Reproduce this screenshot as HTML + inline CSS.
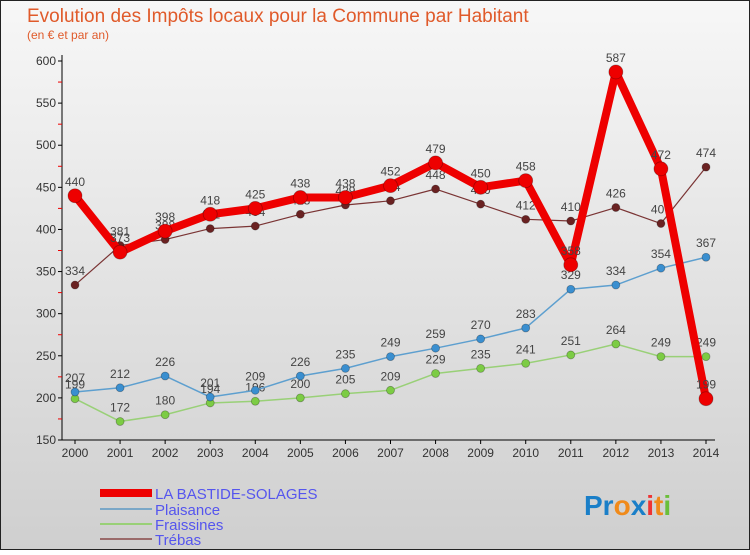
<!DOCTYPE html>
<html><head><meta charset="utf-8"><style>
body{margin:0;width:750px;height:550px;overflow:hidden;font-family:"Liberation Sans",sans-serif}
</style></head><body>
<svg id="c" width="750" height="550" xmlns="http://www.w3.org/2000/svg">
<defs><linearGradient id="bg" x1="0" y1="0" x2="0" y2="1"><stop offset="0" stop-color="#f7f7f7"/><stop offset="1" stop-color="#cfcfcf"/></linearGradient></defs>
<rect x="0.5" y="0.5" width="749" height="549" fill="url(#bg)" stroke="#222"/>
<text x="27" y="22" font-size="19" fill="#e05a2a">Evolution des Impôts locaux pour la Commune par Habitant</text>
<text x="27" y="39" font-size="12" fill="#e05a2a">(en € et par an)</text>
<g id="axes"></g><g id="series"></g>
<g>
<line x1="100" y1="493" x2="152" y2="493" stroke="#e00" stroke-width="8"/>
<text x="155" y="499" font-size="15" fill="#5555ee">LA BASTIDE-SOLAGES</text>
<line x1="100" y1="509" x2="152" y2="509" stroke="#7aa7c7" stroke-width="2"/>
<text x="155" y="515" font-size="15" fill="#5555ee">Plaisance</text>
<line x1="100" y1="524" x2="152" y2="524" stroke="#99d077" stroke-width="2"/>
<text x="155" y="530" font-size="15" fill="#5555ee">Fraissines</text>
<line x1="100" y1="539" x2="152" y2="539" stroke="#9a6b6b" stroke-width="2"/>
<text x="155" y="545" font-size="15" fill="#5555ee">Trébas</text>
</g>
<text x="584" y="515" font-size="28" font-weight="bold"><tspan fill="#1a7fc8">Pr</tspan><tspan fill="#f08a1a">o</tspan><tspan fill="#1a7fc8">x</tspan><tspan fill="#e33">i</tspan><tspan fill="#f08a1a">t</tspan><tspan fill="#6bbf3a">i</tspan></text>
</svg>
<script>
const years=[2000,2001,2002,2003,2004,2005,2006,2007,2008,2009,2010,2011,2012,2013,2014];
const bastide=[440,373,398,418,425,438,438,452,479,450,458,358,587,472,199];
const plaisance=[207,212,226,201,209,226,235,249,259,270,283,329,334,354,367];
const fraissines=[199,172,180,194,196,200,205,209,229,235,241,251,264,249,249];
const trebas=[334,381,388,401,404,418,429,434,448,430,412,410,426,407,474];
const yTicks=[150,200,250,300,350,400,450,500,550,600];
const NS="http://www.w3.org/2000/svg";
function x(i){return 75+i*(706-75)/(years.length-1);}
function y(v){return 440-(v-150)*(440-61)/450;}
function mk(t,a,p){const e=document.createElementNS(NS,t);for(const k in a)e.setAttribute(k,a[k]);p.appendChild(e);return e;}
const ax=document.getElementById('axes');
const yl=mk('line',{x1:62,y1:55,x2:62,y2:440,stroke:'#000'},ax);


const xl=mk('line',{x1:62,y1:440,x2:715,y2:440,stroke:'#000'},ax);


yTicks.forEach(v=>{
 mk('line',{x1:58,y1:y(v),x2:62,y2:y(v),stroke:'#000'},ax);
 if(v<600)mk('line',{x1:58,y1:y(v+25),x2:62,y2:y(v+25),stroke:'#e00'},ax);
 const t=mk('text',{x:56,y:y(v)+4,'font-size':12,'text-anchor':'end',fill:'#333'},ax);t.textContent=v;
 
 
});
years.forEach((yr,i)=>{
 mk('line',{x1:x(i),y1:440,x2:x(i),y2:444,stroke:'#000'},ax);
 const t=mk('text',{x:x(i),y:457,'font-size':12,'text-anchor':'middle',fill:'#333'},ax);t.textContent=yr;
 
 
});
const sg=document.getElementById('series');
function series(arr,name,col,dot,w,r){
 const g=mk('g',{},sg);
 
 
 mk('polyline',{points:arr.map((v,i)=>x(i)+','+y(v)).join(' '),fill:'none',stroke:col,'stroke-width':w,'stroke-linejoin':'round'},g);
 arr.forEach((v,i)=>{
  const c=mk('circle',{cx:x(i),cy:y(v),r:r,fill:dot,stroke:'rgba(0,0,0,0.3)','stroke-width':0.8},g);
  
  
  const t=mk('text',{x:x(i),y:y(v)-10,'font-size':12,'text-anchor':'middle',fill:'#444'},g);t.textContent=v;
  
  
 });
}
series(trebas,'trebas','#7a3434','#6a2222',1.2,4);
series(fraissines,'fraissines','#99d077','#7ccc44',1.5,4);
series(plaisance,'plaisance','#5d9fcf','#3a8fd0',1.5,4);
series(bastide,'bastide','#ee0000','#ee0000',8,7);
</script>
</body></html>
